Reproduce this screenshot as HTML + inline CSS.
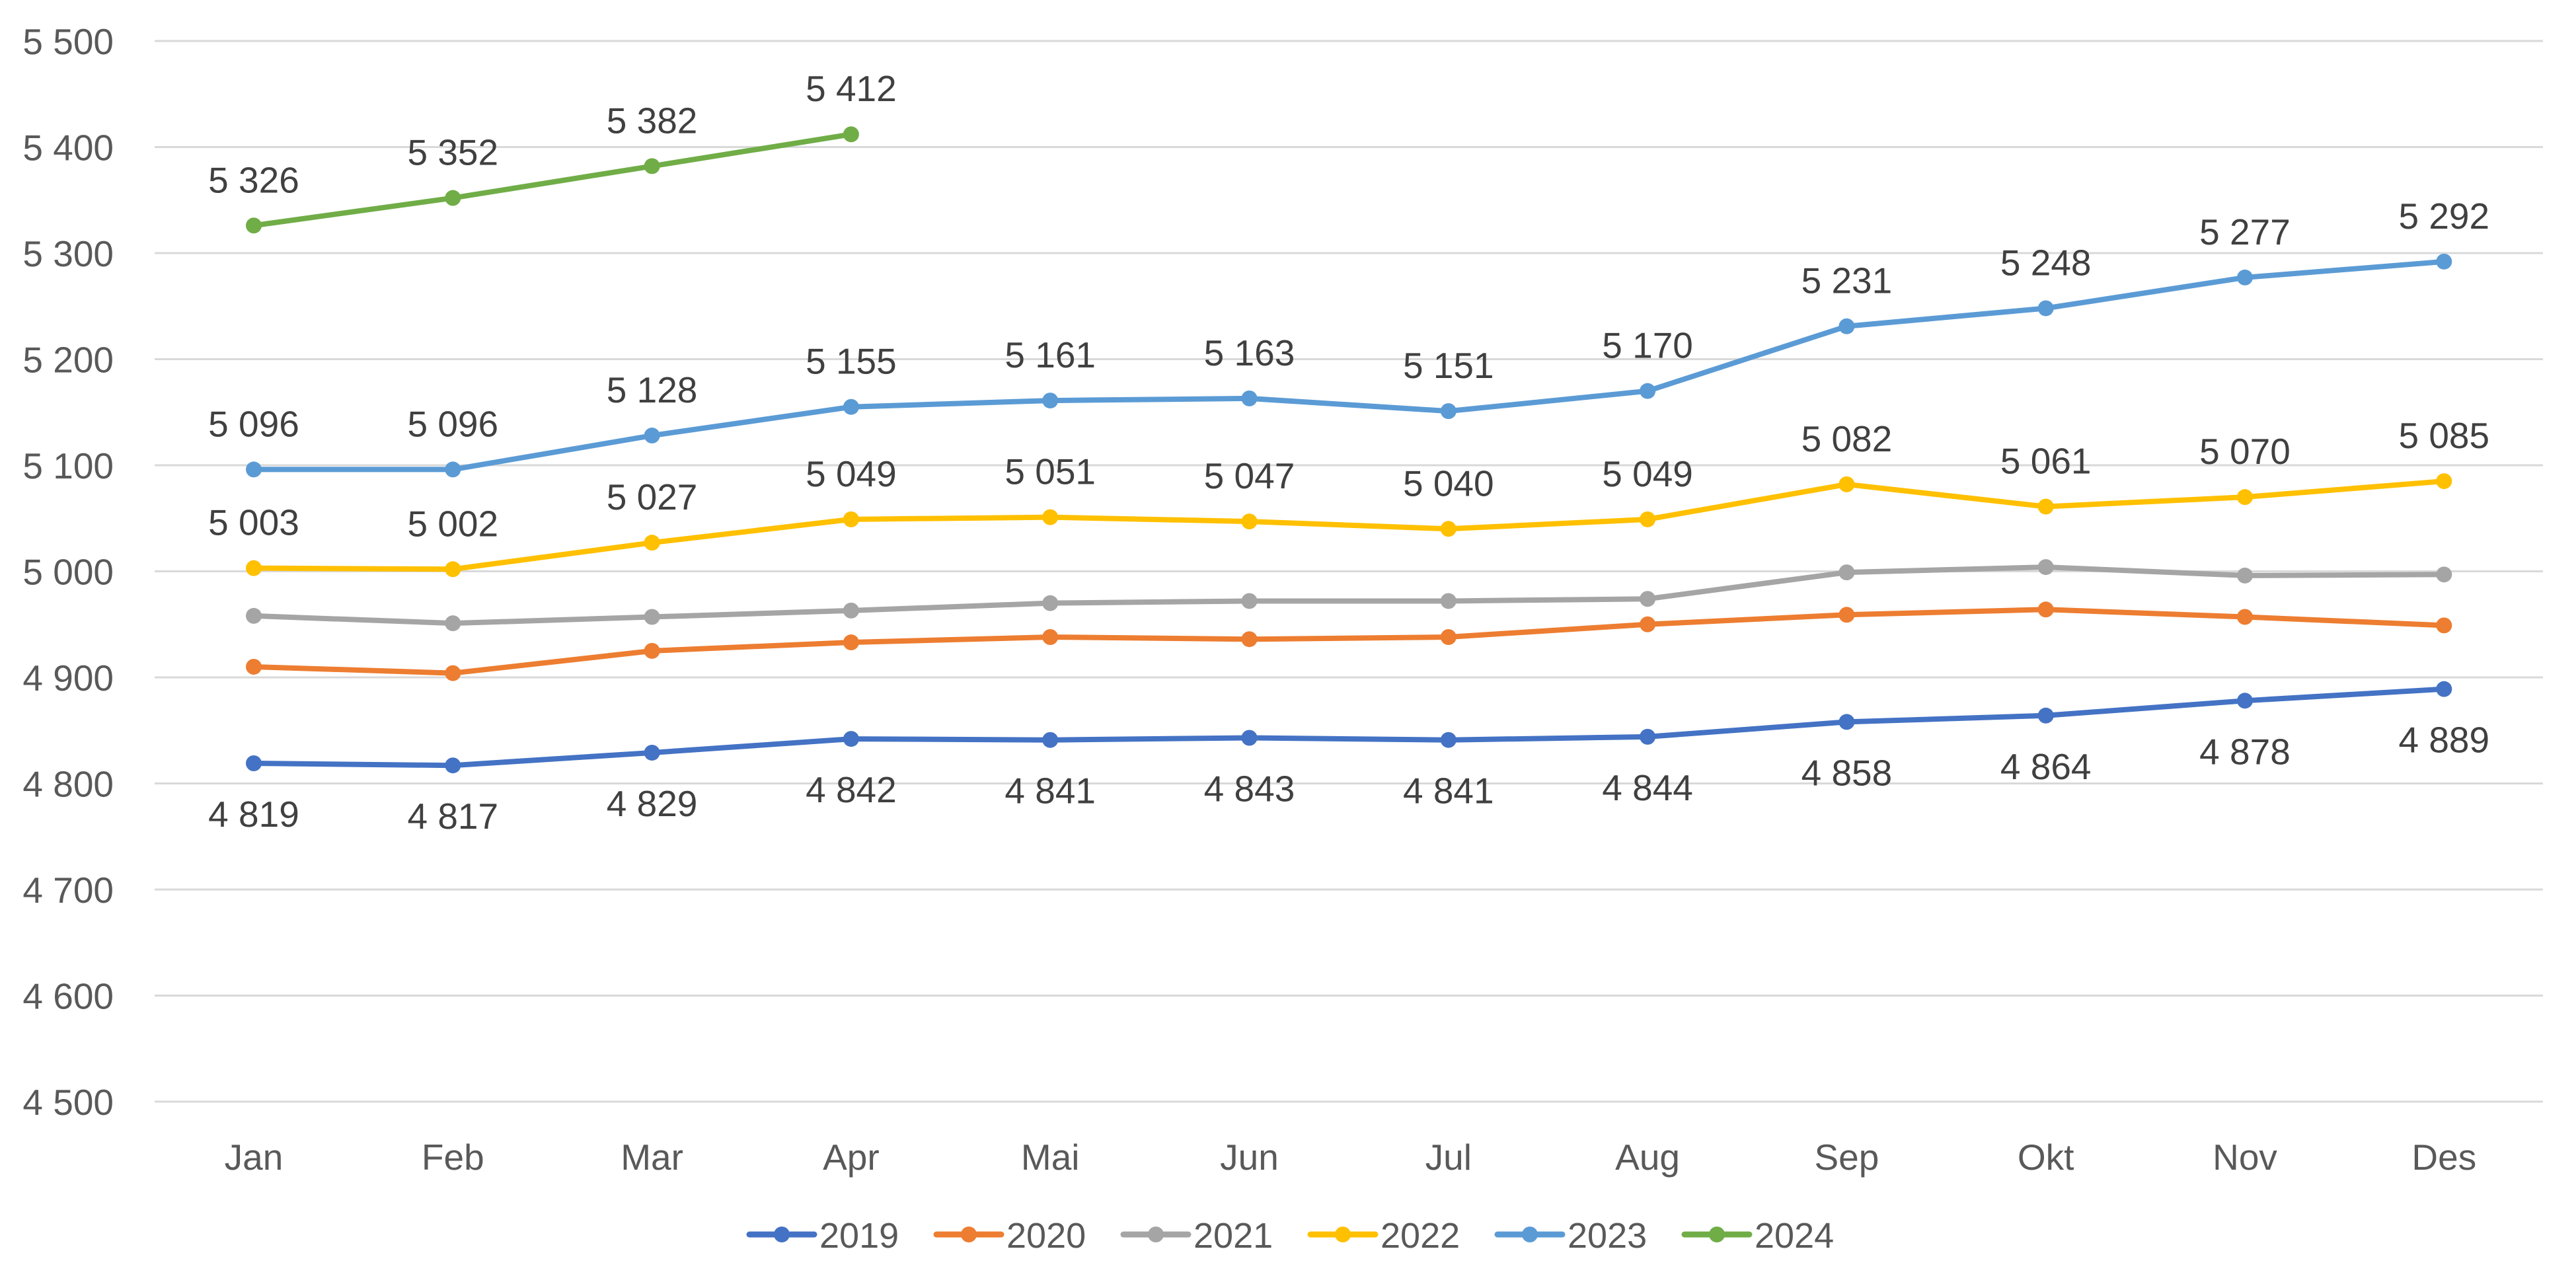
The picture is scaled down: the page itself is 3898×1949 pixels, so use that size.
<!DOCTYPE html>
<html><head><meta charset="utf-8"><style>
html,body{margin:0;padding:0;background:#fff;}
svg{display:block;font-family:"Liberation Sans",sans-serif;}
</style></head><body>
<svg id="c" width="3898" height="1949" xmlns="http://www.w3.org/2000/svg"></svg>
<script>
const s=document.getElementById('c');
const y=v=>62+(5500-v)*1.605;
const x=i=>384+i*301.3;
let h='';
for(let v=4500;v<=5500;v+=100){
 h+=`<line x1="234" x2="3848" y1="${y(v)}" y2="${y(v)}" stroke="#d9d9d9" stroke-width="3"/>`;
 h+=`<text x="172" y="${y(v)+20}" text-anchor="end" font-size="55" fill="#595959">${String(v).replace(/(\d)(\d{3})$/,'$1 $2')}</text>`;
}
const m=['Jan','Feb','Mar','Apr','Mai','Jun','Jul','Aug','Sep','Okt','Nov','Des'];
m.forEach((t,i)=>h+=`<text x="${x(i)}" y="1770" text-anchor="middle" font-size="55" fill="#595959">${t}</text>`);
const S=[
['2019','#4472C4',[4819,4817,4829,4842,4841,4843,4841,4844,4858,4864,4878,4889],1],
['2020','#ED7D31',[4910,4904,4925,4933,4938,4936,4938,4950,4959,4964,4957,4949],0],
['2021','#A5A5A5',[4958,4951,4957,4963,4970,4972,4972,4974,4999,5004,4996,4997],0],
['2022','#FFC000',[5003,5002,5027,5049,5051,5047,5040,5049,5082,5061,5070,5085],-1],
['2023','#5B9BD5',[5096,5096,5128,5155,5161,5163,5151,5170,5231,5248,5277,5292],-1],
['2024','#70AD47',[5326,5352,5382,5412],-1]];
S.forEach(([n,c,d,l])=>{
 h+=`<polyline fill="none" stroke="${c}" stroke-width="8" stroke-linejoin="round" points="${d.map((v,i)=>x(i)+','+y(v)).join(' ')}"/>`;
 d.forEach((v,i)=>{
  h+=`<circle cx="${x(i)}" cy="${y(v)}" r="12" fill="${c}"/>`;
  if(l){const ty=l>0?y(v)+96:y(v)-50;
  h+=`<text x="${x(i)}" y="${ty}" text-anchor="middle" font-size="55" fill="#404040">${String(v).replace(/(\d)(\d{3})$/,'$1 $2')}</text>`;}
 });
});
S.forEach(([n,c],k)=>{
 const lx=1134+k*283;
 h+=`<line x1="${lx}" x2="${lx+98}" y1="1868" y2="1868" stroke="${c}" stroke-width="9" stroke-linecap="round"/>`;
 h+=`<circle cx="${lx+49}" cy="1868" r="12" fill="${c}"/>`;
 h+=`<text x="${lx+106}" y="1888" font-size="54" fill="#595959">${n}</text>`;
});
s.innerHTML=h;
</script>
</body></html>
